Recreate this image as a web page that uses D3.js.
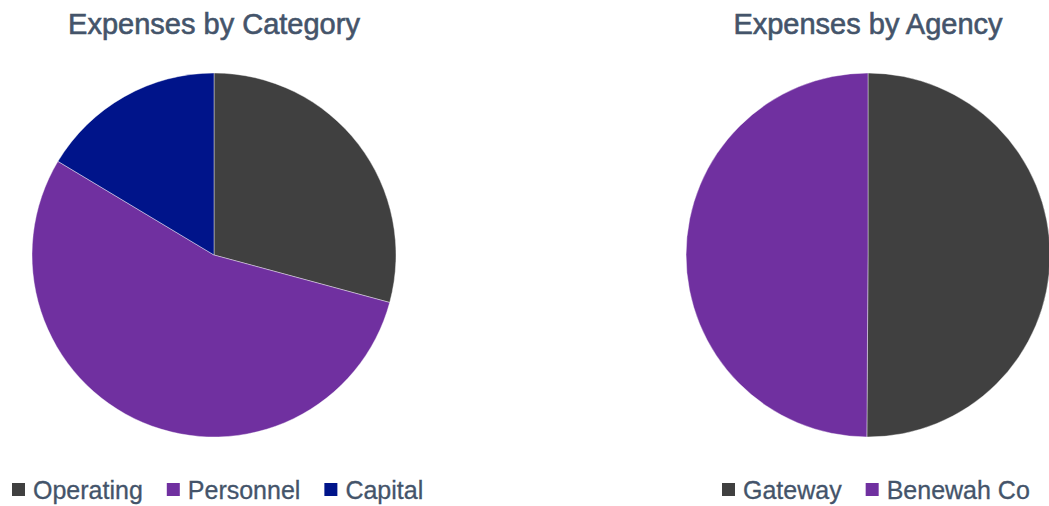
<!DOCTYPE html>
<html>
<head>
<meta charset="utf-8">
<script src="https://cdn.jsdelivr.net/npm/d3@7"></script>
<style>
  html, body { margin: 0; padding: 0; background: #fff; }
  svg { display: block; }
</style>
</head>
<body>
<svg id="chart" width="1049" height="506"></svg>
<script>
// Expense shares (percent of total)
const categoryNames = ["Operating", "Personnel", "Capital"];
const categoryValues = [29.2, 54.4, 16.4];
const categoryColors = ["#404040", "#7030A0", "#00148A"];

const agencyNames = ["Gateway", "Benewah Co"];
const agencyValues = [50.1, 49.9];
const agencyColors = ["#404040", "#7030A0"];

const titles = ["Expenses by Category", "Expenses by Agency"];

const svg = d3.select("#chart");
const textColor = "#44546A";
const fontFamily = "'Liberation Sans', sans-serif";

function drawPie(cx, title, names, values, colors, legendX) {
  const g = svg.append("g");
  const radius = 182;
  const cy = 255;

  g.append("text")
    .attr("x", cx)
    .attr("y", 34)
    .attr("text-anchor", "middle")
    .attr("font-family", fontFamily)
    .attr("font-size", 29)
    .attr("fill", textColor)
    .attr("stroke", textColor)
    .attr("stroke-width", 0.6)
    .text(title);

  const pie = d3.pie().sort(null).value(d => d.value);
  const arc = d3.arc().innerRadius(0).outerRadius(radius);
  const data = names.map((n, i) => ({ name: n, value: values[i], color: colors[i] }));

  g.append("g")
    .attr("transform", `translate(${cx},${cy})`)
    .selectAll("path")
    .data(pie(data))
    .join("path")
    .attr("d", arc)
    .attr("fill", d => d.data.color)
    .attr("stroke", "#ffffff")
    .attr("stroke-width", 0.4);

  // legend row
  const legend = g.append("g").attr("transform", `translate(0, 490)`);
  let x = legendX;
  data.forEach(d => {
    legend.append("rect")
      .attr("x", x).attr("y", -7)
      .attr("width", 13).attr("height", 13)
      .attr("fill", d.color);
    const t = legend.append("text")
      .attr("x", x + 21).attr("y", 8.5)
      .attr("font-family", fontFamily)
      .attr("font-size", 25)
      .attr("fill", textColor)
      .attr("stroke", textColor)
      .attr("stroke-width", 0.3)
      .text(d.name);
    const w = t.node().getComputedTextLength();
    x += 21 + w + 24;
  });
}

drawPie(214, titles[0], categoryNames, categoryValues, categoryColors, 12);
drawPie(868, titles[1], agencyNames, agencyValues, agencyColors, 722);
</script>
</body>
</html>
